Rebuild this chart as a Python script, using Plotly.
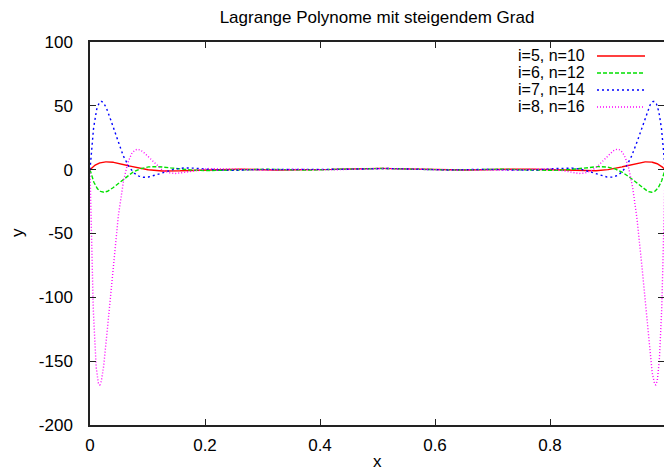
import numpy as np
import plotly.graph_objects as go

# Lagrange basis polynomials L_i on n+1 equidistant nodes in [0, 1]
node_counts = [10, 12, 14, 16]
basis_index = [5, 6, 7, 8]
labels = ["i=5, n=10", "i=6, n=12", "i=7, n=14", "i=8, n=16"]
colors = ["#ff0000", "#00e000", "#0000ff", "#ff00ff"]
dashes = ["solid", "4px,2px", "2px,3px", "1px,2px"]

x_ticks = [0, 0.2, 0.4, 0.6, 0.8, 1]
x_tick_text = ["0", "0.2", "0.4", "0.6", "0.8", "1"]
y_ticks = [-200, -150, -100, -50, 0, 50, 100]
y_tick_text = ["-200", "-150", "-100", "-50", "0", "50", "100"]

W, H = 664, 473
L_M, T_M, B_M, R_M = 90, 42, 48, 0
# the frame is cut just short of x = 1 on the right
X_MAX = (W - L_M) / 575.0
FS = 17
KEY_FS = 16


def lagrange_basis(x, n, i):
    nodes = np.linspace(0.0, 1.0, n + 1)
    y = np.ones_like(x)
    for j, xj in enumerate(nodes):
        if j != i:
            y *= (x - xj) / (nodes[i] - xj)
    return y


xs = np.linspace(0.0, 1.0, 2001)

fig = go.Figure()
for n, i, name, c, d in zip(node_counts, basis_index, labels, colors, dashes):
    fig.add_trace(go.Scatter(
        x=xs, y=lagrange_basis(xs, n, i), mode="lines", name=name,
        line=dict(color=c, width=1.4, dash=d), showlegend=False,
    ))

# helpers: pixel position -> paper coordinates
pw, ph = W - L_M - R_M, H - T_M - B_M


def px(xp):
    return (xp - L_M) / pw


def py(yp):
    return 1 - (yp - T_M) / ph


shapes = []
annotations = []
# gnuplot-style key: right-aligned text followed by a line sample
for k, (name, c, d) in enumerate(zip(labels, colors, dashes)):
    yc = 56 + 17 * k
    annotations.append(dict(
        text=name, xref="paper", yref="paper", x=px(587), y=py(yc),
        xanchor="right", yanchor="middle", showarrow=False,
        font=dict(size=KEY_FS, color="#000"),
    ))
    shapes.append(dict(
        type="line", xref="paper", yref="paper",
        x0=px(597), x1=px(645), y0=py(yc), y1=py(yc),
        line=dict(color=c, width=1.4, dash=d),
    ))

# partially visible tick label at x = 1 on the cut-off right edge
annotations.append(dict(
    text="1", xref="x", yref="paper", x=1.0, y=py(441),
    xanchor="center", yanchor="middle", showarrow=False,
    font=dict(size=FS, color="#000"),
))
# axis titles
annotations.append(dict(
    text="x", xref="paper", yref="paper", x=px(377), y=py(461),
    xanchor="center", yanchor="middle", showarrow=False,
    font=dict(size=FS, color="#000"),
))
annotations.append(dict(
    text="y", xref="paper", yref="paper", x=px(18), y=py(233),
    xanchor="center", yanchor="middle", showarrow=False, textangle=-90,
    font=dict(size=FS, color="#000"),
))

axis_font = dict(family="Liberation Sans, Arial, sans-serif", size=FS, color="#000")

fig.update_layout(
    width=W, height=H,
    margin=dict(l=L_M, r=R_M, t=T_M, b=B_M, pad=0),
    paper_bgcolor="white", plot_bgcolor="white",
    font=axis_font,
    title=dict(text="Lagrange Polynome mit steigendem Grad", x=0.5, xref="paper",
               y=1 - 17 / H, yanchor="middle", xanchor="center",
               font=dict(size=FS, color="#000")),
    shapes=shapes,
    annotations=annotations,
    xaxis=dict(
        range=[0, X_MAX], tickvals=x_ticks, ticktext=x_tick_text, automargin=False,
        showgrid=False, zeroline=False, showline=True, linecolor="#222", linewidth=1.5,
        mirror="ticks", ticks="inside", ticklen=6, tickcolor="#222", tickwidth=1,
        ticklabelstandoff=4,
    ),
    yaxis=dict(
        range=[-200, 100], tickvals=y_ticks, ticktext=y_tick_text, automargin=False,
        showgrid=False, zeroline=False, showline=True, linecolor="#222", linewidth=1.5,
        mirror=False, ticks="inside", ticklen=6, tickcolor="#222", tickwidth=1,
        ticklabelstandoff=12,
    ),
    yaxis2=dict(
        overlaying="y", side="right", matches="y", range=[-200, 100], tickvals=y_ticks,
        showgrid=False, zeroline=False, showline=False, showticklabels=False,
        automargin=False,
        ticks="inside", ticklen=6, tickcolor="#222", tickwidth=1,
    ),
)
# invisible trace that activates the right-hand tick axis
fig.add_trace(go.Scatter(x=[0], y=[0], yaxis="y2", mode="markers",
                         marker=dict(opacity=0), showlegend=False, hoverinfo="skip"))

fig.write_html("out.html")
